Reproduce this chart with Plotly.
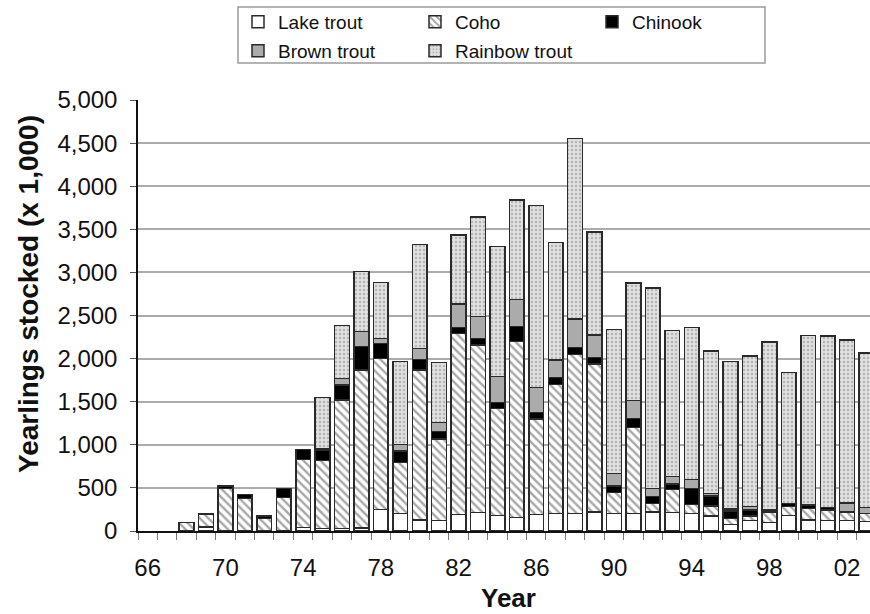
import plotly.graph_objects as go

# Yearlings stocked per year, thousands of fish
years = list(range(1966, 2004))

lake_trout = [0, 0, 0, 45, 0, 0, 0, 0, 40, 27, 27, 35, 251, 205, 128, 120, 193, 213,
              182, 159, 193, 205, 205, 220, 205, 205, 220, 213, 205, 174, 77, 120,
              100, 180, 128, 120, 120, 108]
coho = [0, 0, 100, 150, 495, 375, 143, 390, 790, 789, 1493, 1833, 1752, 592, 1740,
        947, 2100, 1945, 1241, 2037, 1106, 1496, 1844, 1717, 240, 994, 101, 270, 104,
        116, 70, 54, 113, 102, 135, 124, 93, 97]
chinook = [0, 0, 0, 0, 27, 50, 31, 105, 113, 124, 174, 270, 174, 131, 123, 85, 70,
           77, 70, 174, 74, 82, 78, 78, 77, 108, 77, 62, 186, 116, 85, 70, 15, 39,
           39, 31, 10, 0]
brown_trout = [0, 0, 0, 0, 0, 0, 0, 0, 0, 15, 77, 175, 58, 77, 128, 109, 270, 251,
               297, 318, 294, 201, 332, 259, 147, 205, 97, 85, 104, 31, 23, 38, 16,
               0, 0, 0, 100, 66]
rainbow_trout = [0, 0, 0, 0, 0, 0, 0, 0, 0, 592, 612, 699, 650, 959, 1207, 692, 801,
                 1157, 1509, 1152, 2107, 1361, 2096, 1195, 1671, 1365, 2324, 1694,
                 1764, 1651, 1709, 1748, 1949, 1520, 1968, 1987, 1893, 1794]

tick_years = list(range(1966, 2003, 4))
tick_text = [f"{y % 100:02d}" for y in tick_years]
y_ticks = list(range(0, 5001, 500))

FONT = "Arial, Liberation Sans, sans-serif"
OUTLINE = dict(color="#2a2a2a", width=1.5)

# (name, values, marker style, legend row)
series = [
    ("Lake trout", lake_trout, dict(color="white", line=OUTLINE), "legend"),
    ("Coho", coho, dict(color="white", line=OUTLINE,
                        pattern=dict(shape="\\", fgcolor="#505050", bgcolor="white",
                                     size=6, solidity=0.4)), "legend"),
    ("Chinook", chinook, dict(color="black", line=OUTLINE), "legend"),
    ("Brown trout", brown_trout, dict(color="#ababab", line=OUTLINE), "legend2"),
    ("Rainbow trout", rainbow_trout, dict(color="#e0e0e0", line=OUTLINE,
                                          pattern=dict(shape=".", fgcolor="#888888",
                                                       bgcolor="#e0e0e0", size=4,
                                                       solidity=0.3)), "legend2"),
]

fig = go.Figure()
for name, values, marker, leg in series:
    # empty segments are left out so no zero-height outline is drawn
    fig.add_trace(go.Bar(x=years, y=[v if v else None for v in values],
                         name=name, marker=marker, legend=leg))

PLOT_L, PLOT_W, PLOT_B, PLOT_H = 138, 732, 531, 431


def px_x(p):
    return (p - PLOT_L) / PLOT_W


def px_y(p):
    return (PLOT_B - p) / PLOT_H


legend_style = dict(
    orientation="h", xanchor="left", yanchor="top", traceorder="normal",
    entrywidth=132, entrywidthmode="pixels",
    font=dict(size=19, family=FONT, color="#111"),
    borderwidth=0, bgcolor="rgba(0,0,0,0)",
)

fig.update_layout(
    width=870, height=614,
    margin=dict(l=138, r=0, t=100, b=83),
    paper_bgcolor="white", plot_bgcolor="white",
    barmode="stack", bargap=0.24,
    font=dict(family=FONT, color="#111"),
    legend=dict(legend_style, x=px_x(238), y=px_y(3)),
    legend2=dict(legend_style, x=px_x(238), y=px_y(32)),
    shapes=[
        dict(type="rect", xref="paper", yref="paper",
             x0=px_x(238), x1=px_x(765), y0=px_y(63), y1=px_y(7),
             line=dict(color="#9a9a9a", width=1.5), fillcolor="white", layer="below"),
    ],
    xaxis=dict(
        range=[1965.5, 2003.18],
        tickmode="array", tickvals=tick_years, ticktext=tick_text,
        ticks="", showgrid=False, zeroline=False,
        showline=True, linecolor="#111", linewidth=1.5,
        tickfont=dict(size=24, family=FONT, color="#111"),
        ticklabelstandoff=14,
        minor=dict(ticks="outside", tickmode="linear", tick0=1965.5, dtick=1,
                   ticklen=7, tickcolor="#777", tickwidth=1, showgrid=False),
    ),
    yaxis=dict(
        range=[0, 5000],
        tickmode="array", tickvals=y_ticks, tickformat=",",
        ticks="outside", ticklen=6, tickcolor="#555", tickwidth=1,
        showgrid=True, gridcolor="#ababab", gridwidth=2,
        zeroline=False, showline=True, linecolor="#111", linewidth=1.5,
        tickfont=dict(size=24, family=FONT, color="#111"),
        ticklabelstandoff=8,
    ),
    annotations=[
        dict(text="<b>Yearlings stocked (x 1,000)</b>", textangle=-90,
             xref="paper", yref="paper", x=px_x(28), y=px_y(294),
             xanchor="center", yanchor="middle", showarrow=False,
             font=dict(size=28, family=FONT, color="#111")),
        dict(text="<b>Year</b>", xref="paper", yref="paper", x=px_x(508), y=px_y(598),
             xanchor="center", yanchor="middle", showarrow=False,
             font=dict(size=26, family=FONT, color="#111")),
    ],
)

fig.write_html("out.html")
